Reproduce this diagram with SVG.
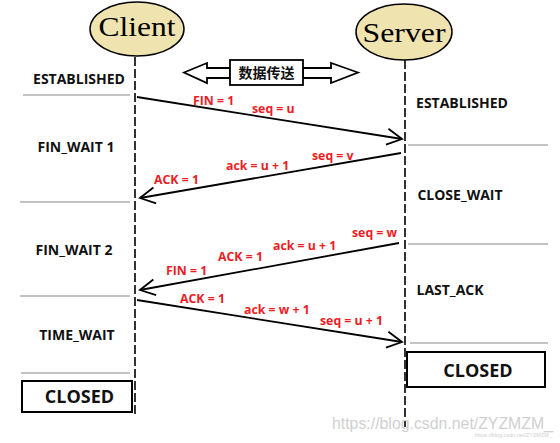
<svg xmlns="http://www.w3.org/2000/svg" width="560" height="443" viewBox="0 0 560 443">
<defs>
<style>
.ell{fill:#EFE4B0;stroke:#000;stroke-width:1.5}
.title{font-family:"Liberation Serif",serif;font-size:28px;fill:#000}
.life{stroke:#000;stroke-width:1.6;stroke-dasharray:9 3;fill:none}
.sep{stroke:#c3c3c3;stroke-width:2}
.state{font-family:"Open Sans","Noto Sans",sans-serif;font-weight:bold;font-size:14px;fill:#111}
.big{font-family:"Open Sans","Noto Sans",sans-serif;font-weight:bold;font-size:18px;fill:#111}
.lab{font-family:"Open Sans","Noto Sans",sans-serif;font-weight:bold;font-size:12.3px;fill:#ee1c24}
.msg{stroke:#000;stroke-width:1.8;fill:none;marker-end:url(#open)}
.box{fill:#fff;stroke:#000;stroke-width:2}
.wm{font-family:"Liberation Sans",sans-serif;fill:#d0d0d0}
</style>
<marker id="open" markerUnits="userSpaceOnUse" markerWidth="20" markerHeight="20" viewBox="-17 -10 20 20" refX="0" refY="0" orient="auto">
<path d="M-15,-8 L0,0 L-15,8" fill="none" stroke="#000" stroke-width="1.8"/>
</marker>
</defs>
<rect width="560" height="443" fill="#fff"/>

<g id="client">
<ellipse class="ell" cx="137" cy="29" rx="47" ry="27"/>
<text class="title" x="137" y="36" text-anchor="middle" textLength="77" lengthAdjust="spacingAndGlyphs">Client</text>
<line class="life" x1="135" y1="57" x2="135" y2="417"/>
</g>
<g id="server">
<ellipse class="ell" cx="404" cy="32" rx="48" ry="28"/>
<text class="title" x="404" y="42" text-anchor="middle" textLength="83" lengthAdjust="spacingAndGlyphs">Server</text>
<line class="life" x1="405" y1="60" x2="405" y2="427"/>
</g>

<g id="transfer">
<path d="M184,72.5 L207,63 L207,68 L230,68 L230,78 L207,78 L207,83 Z" fill="#fff" stroke="#000" stroke-width="1.8"/>
<path d="M358,72.5 L331,63 L331,68 L303,68 L303,78 L331,78 L331,83 Z" fill="#fff" stroke="#000" stroke-width="1.8"/>
<rect x="230" y="60" width="73" height="25" fill="#fff" stroke="#000" stroke-width="1.8"/>
<text x="266.5" y="78" text-anchor="middle" style="font-family:'Noto Sans CJK SC',sans-serif;font-weight:bold;font-size:14px;fill:#111">数据传送</text>
</g>

<g id="client-states">
<text class="state" x="79" y="84" text-anchor="middle">ESTABLISHED</text>
<line class="sep" x1="23" y1="95" x2="130" y2="95"/>
<text class="state" x="76" y="152" text-anchor="middle">FIN_WAIT 1</text>
<line class="sep" x1="20" y1="202" x2="130" y2="202"/>
<text class="state" x="74" y="255" text-anchor="middle">FIN_WAIT 2</text>
<line class="sep" x1="20" y1="296" x2="130" y2="296"/>
<text class="state" x="77" y="340" text-anchor="middle">TIME_WAIT</text>
<line class="sep" x1="21" y1="373" x2="130" y2="373"/>
</g>
<g id="client-closed">
<rect class="box" x="22" y="381" width="110" height="31"/>
<text class="big" x="79.5" y="403" text-anchor="middle">CLOSED</text>
</g>

<g id="server-states">
<text class="state" x="462" y="108" text-anchor="middle">ESTABLISHED</text>
<line class="sep" x1="408" y1="145" x2="548" y2="145"/>
<text class="state" x="460" y="200" text-anchor="middle">CLOSE_WAIT</text>
<line class="sep" x1="408" y1="244" x2="548" y2="244"/>
<text class="state" x="450" y="295" text-anchor="middle">LAST_ACK</text>
<line class="sep" x1="410" y1="343" x2="548" y2="343"/>
</g>
<g id="server-closed">
<rect class="box" x="407" y="352" width="138" height="35"/>
<text class="big" x="478" y="377" text-anchor="middle">CLOSED</text>
</g>

<g id="connectors">
<line class="msg" x1="137" y1="97" x2="402" y2="139"/>
<line class="msg" x1="401" y1="153" x2="140" y2="198"/>
<line class="msg" x1="399" y1="243" x2="140" y2="290"/>
<line class="msg" x1="137" y1="300" x2="402" y2="342"/>
</g>

<g id="labels">
<text class="lab" x="193" y="105">FIN = 1</text>
<text class="lab" x="252" y="113">seq = u</text>
<text class="lab" x="312" y="160">seq = v</text>
<text class="lab" x="226" y="170">ack = u + 1</text>
<text class="lab" x="154" y="184">ACK = 1</text>
<text class="lab" x="352" y="237">seq = w</text>
<text class="lab" x="273" y="250">ack = u + 1</text>
<text class="lab" x="218" y="261">ACK = 1</text>
<text class="lab" x="166" y="275">FIN = 1</text>
<text class="lab" x="180" y="303">ACK = 1</text>
<text class="lab" x="244" y="314">ack = w + 1</text>
<text class="lab" x="320" y="325">seq = u + 1</text>
</g>

<text class="wm" x="332" y="429" font-size="16" textLength="221" lengthAdjust="spacingAndGlyphs">https://blog.csdn.net/ZYZMZM_</text>
<text class="wm" x="475" y="437" font-size="5.5" textLength="77" lengthAdjust="spacingAndGlyphs">https://blog.csdn.net/ZYZMZM_</text>
</svg>
